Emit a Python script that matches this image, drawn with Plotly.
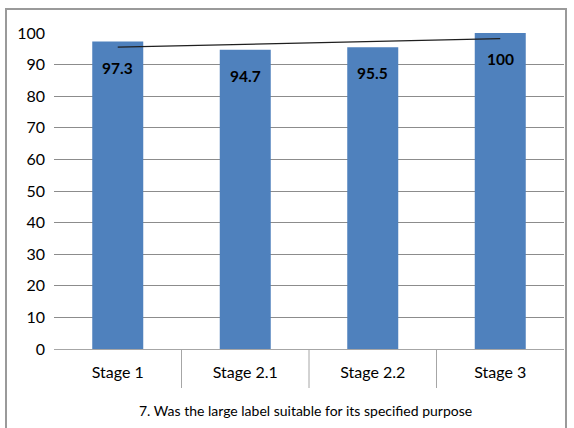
import numpy as np
import plotly.graph_objects as go

# Survey results per stage (% answering yes)
stages = ["Stage 1", "Stage 2.1", "Stage 2.2", "Stage 3"]
values = [97.3, 94.7, 95.5, 100]
y_ticks = [0, 10, 20, 30, 40, 50, 60, 70, 80, 90, 100]
title_text = "7. Was the large label suitable for its specified purpose"

W, H = 574, 428
ML, MR, MT, MB = 54, 10, 33, 79
PW, PH = W - ML - MR, H - MT - MB

# Linear trend fitted over the stage index
idx = np.arange(len(values))
slope, intercept = np.polyfit(idx, values, 1)
trend = intercept + slope * idx

font_family = "Lato, Noto Sans, sans-serif"

fig = go.Figure()
fig.add_trace(go.Bar(
    x=stages, y=values,
    marker=dict(color="#4F81BD", line=dict(width=0)),
    hoverinfo="skip",
))
fig.add_trace(go.Scatter(
    x=[stages[0], stages[-1]], y=[trend[0], trend[-1]],
    mode="lines", line=dict(color="#1F1F1F", width=1.2),
    hoverinfo="skip",
))

# Value labels inside the top of each bar
for s, v in zip(stages, values):
    fig.add_annotation(
        x=s, y=v, text=f"<b>{v:g}</b>", showarrow=False,
        yanchor="middle", yshift=-26,
        font=dict(family=font_family, size=15.5, color="#000000"),
    )

# Category divider lines below the axis
def px_to_paper_y(py):
    return (H - MB - py) / PH

def px_to_paper_x(px):
    return (px - ML) / PW

for b in [0.5, 1.5, 2.5]:
    fig.add_shape(type="line", xref="x", yref="paper",
                  x0=b, x1=b, y0=0, y1=px_to_paper_y(388),
                  line=dict(color="#A6A6A6", width=1))

# Outer chart border
fig.add_shape(type="rect", xref="paper", yref="paper",
              x0=px_to_paper_x(6), x1=px_to_paper_x(566),
              y0=px_to_paper_y(440), y1=px_to_paper_y(9),
              line=dict(color="#9A9A9A", width=2), fillcolor="rgba(0,0,0,0)",
              layer="above")

fig.add_annotation(
    text=title_text, xref="paper", yref="paper",
    x=px_to_paper_x(305), y=px_to_paper_y(410),
    showarrow=False, xanchor="center", yanchor="middle",
    font=dict(family=font_family, size=14, color="#000000"),
)

fig.update_layout(
    width=W, height=H,
    margin=dict(l=ML, r=MR, t=MT, b=MB),
    paper_bgcolor="white", plot_bgcolor="white",
    showlegend=False, bargap=0.6,
    font=dict(family=font_family, size=15, color="#000000"),
)
fig.update_xaxes(
    type="category", showgrid=False, showline=True,
    linecolor="#A6A6A6", linewidth=1, ticks="",
    tickfont=dict(family=font_family, size=16, color="#000000"),
    ticklabelstandoff=9,
)
fig.update_yaxes(
    range=[0, 100], tickvals=y_ticks, showgrid=True,
    gridcolor="#8C8C8C", gridwidth=1, zeroline=False, showline=False,
    tickfont=dict(family=font_family, size=16, color="#000000"),
    ticks="", ticklabelstandoff=8,
)

fig.write_html("out.html")
